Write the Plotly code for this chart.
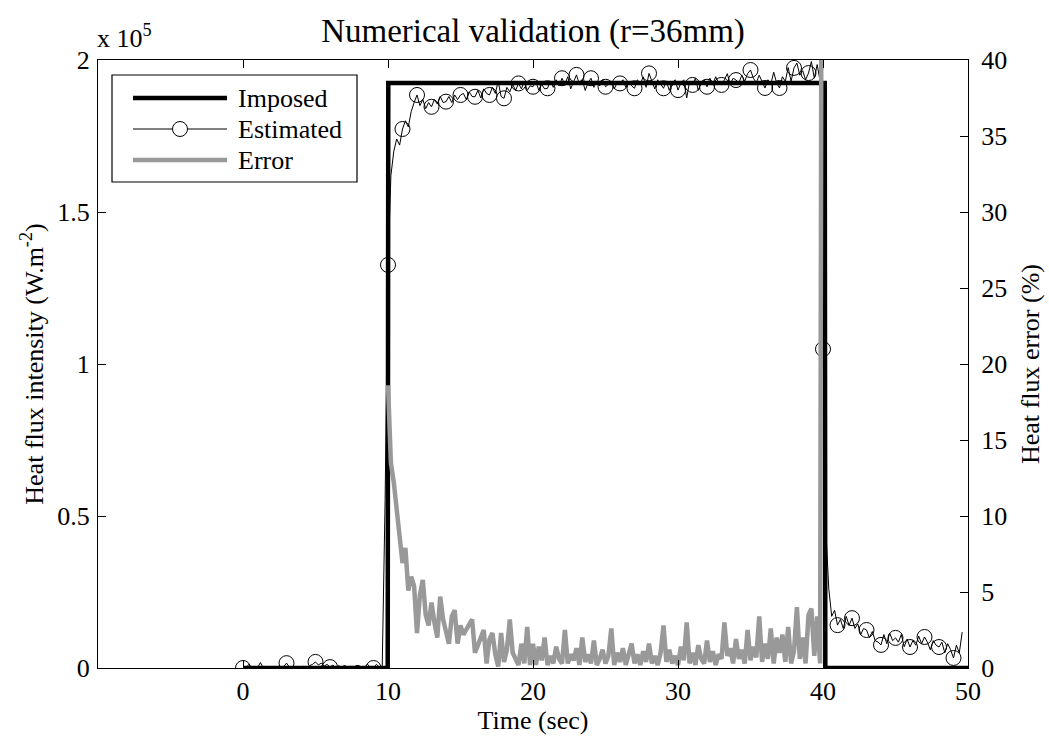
import numpy as np
import plotly.graph_objects as go

# ---------------- data ----------------
# Imposed heat flux (units of 1e5 W.m^-2)
imp_t = [0.0, 9.98, 10.02, 40.12, 40.16, 50.0]
imp_v = [0.0, 0.0, 1.924, 1.924, 0.0, 0.0]

# Estimated heat flux, sampled every 0.2 s from 0 to 49.6 s (units of 1e5 W.m^-2)
est_v = [
    # 0.0 - 9.6
    0.0, 0.0, 0.012, 0.0, 0.004, 0.0, 0.018, 0.0, 0.0, 0.0,
    0.0, 0.0, 0.0, 0.0, 0.004, 0.016, 0.003, 0.0, 0.0, 0.0,
    0.0, 0.006, 0.0, 0.008, 0.012, 0.02, 0.01, 0.016, 0.006, 0.012,
    0.003, 0.01, 0.0, 0.008, 0.0, 0.01, 0.0, 0.006, 0.0, 0.008,
    0.008, 0.0, 0.004, 0.012, 0.0, 0.0, 0.012, 0.003, 0.0,
    # 9.8
    0.55,
    # 10.0 - 39.8
    1.326, 1.62, 1.70, 1.74, 1.72, 1.773, 1.80, 1.78, 1.83, 1.86,
    1.885, 1.85, 1.87, 1.84, 1.86, 1.846, 1.87, 1.855, 1.88, 1.86,
    1.863, 1.88, 1.86, 1.885, 1.87, 1.885, 1.89, 1.87, 1.895, 1.88,
    1.879, 1.90, 1.875, 1.905, 1.89, 1.885, 1.91, 1.89, 1.93, 1.88,
    1.874, 1.91, 1.895, 1.92, 1.90, 1.923, 1.905, 1.93, 1.90, 1.915,
    1.912, 1.93, 1.90, 1.92, 1.905, 1.907, 1.93, 1.91, 1.935, 1.915,
    1.940, 1.92, 1.945, 1.905, 1.93, 1.951, 1.92, 1.935, 1.90, 1.925,
    1.940, 1.91, 1.93, 1.915, 1.935, 1.912, 1.92, 1.93, 1.905, 1.925,
    1.923, 1.935, 1.91, 1.93, 1.915, 1.907, 1.935, 1.92, 1.945, 1.91,
    1.956, 1.93, 1.905, 1.935, 1.92, 1.907, 1.93, 1.90, 1.925, 1.935,
    1.901, 1.925, 1.935, 1.875, 1.93, 1.918, 1.94, 1.90, 1.925, 1.935,
    1.912, 1.94, 1.92, 1.945, 1.925, 1.918, 1.935, 1.955, 1.92, 1.94,
    1.934, 1.925, 1.95, 1.93, 1.955, 1.967, 1.94, 1.925, 1.95, 1.93,
    1.908, 1.935, 1.92, 1.96, 1.925, 1.908, 1.945, 1.93, 1.975, 1.93,
    1.974, 1.99, 1.95, 1.965, 1.935, 1.957, 1.995, 1.94, 1.985, 1.93,
    # 40.0 - 49.6
    1.049, 0.45, 0.26, 0.17, 0.19, 0.141, 0.16, 0.13, 0.17, 0.14,
    0.164, 0.13, 0.145, 0.11, 0.13, 0.125, 0.10, 0.12, 0.09, 0.085,
    0.076, 0.11, 0.08, 0.115, 0.09, 0.099, 0.085, 0.11, 0.07, 0.095,
    0.069, 0.09, 0.075, 0.105, 0.08, 0.102, 0.085, 0.06, 0.09, 0.075,
    0.069, 0.085, 0.05, 0.08, 0.06, 0.033, 0.075, 0.05, 0.118,
]
est_t = np.round(np.arange(len(est_v)) * 0.2, 1)

# Times at which the circle markers are shown
marker_times = [0, 3, 5, 6, 9] + list(range(10, 50))

# Heat flux error (%), sampled every 0.2 s from 10.0 to 40.0 s
err_v = [
    18.6, 13.5, 12.2, 10.6, 8.5, 6.9, 7.9, 5.1, 6.0, 5.4,
    2.3, 4.8, 5.8, 3.5, 2.8, 4.3, 3.0, 2.0, 4.7, 3.2,
    2.4, 1.6, 3.4, 3.8, 1.6, 2.8, 2.2, 2.5, 2.9, 3.2,
    1.0, 1.6, 2.0, 2.5, 0.3, 1.9, 2.3, 0.9, 0.1, 2.3,
    0.4, 1.2, 3.2, 1.0, 0.6, 0.2, 1.6, 0.3, 2.7, 0.2,
    1.6, 0.2, 1.4, 0.5, 2.0, 0.2, 0.8, 0.3, 1.4, 0.6,
    0.3, 2.5, 0.3, 0.9, 0.5, 1.3, 0.2, 2.0, 0.4, 0.9,
    0.3, 1.8, 0.2, 0.6, 1.2, 0.3, 0.8, 2.6, 0.2, 1.0,
    0.4, 1.3, 0.2, 0.8, 1.6, 0.3, 0.9, 0.2, 1.1, 0.4,
    1.6, 0.3, 0.8, 0.2, 1.0, 2.8, 0.4, 1.2, 0.3, 0.8,
    0.2, 1.4, 0.5, 3.0, 0.3, 1.0, 0.2, 1.5, 0.6, 0.3,
    1.8, 0.4, 1.1, 0.2, 0.9, 0.6, 3.0, 0.8, 1.3, 0.3,
    1.9, 0.6, 1.2, 0.3, 2.5, 0.5, 1.4, 0.7, 3.4, 0.4,
    1.6, 0.6, 2.6, 0.3, 2.0, 1.0, 2.2, 0.4, 2.7, 0.3,
    1.1, 4.0, 0.6, 2.0, 0.3, 3.5, 3.9, 0.8, 3.4, 0.3,
    100.0,
]
err_t = np.round(10 + np.arange(len(err_v)) * 0.2, 1)

x_ticks = [0, 10, 20, 30, 40, 50]
y_ticks = [0, 0.5, 1, 1.5, 2]
y_ticklabels = ["0", "0.5", "1", "1.5", "2"]
y2_ticks = [0, 5, 10, 15, 20, 25, 30, 35, 40]
legend_names = ["Imposed", "Estimated", "Error"]

# ---------------- styling ----------------
FONT = "Liberation Serif"
FS = 26
W, H = 1049, 745
ML, MR, MT, MB = 98, 81, 60, 77
PW, PH = W - ML - MR, H - MT - MB
GRAY = "#999999"


def px(x):  # pixel x -> paper x
    return (x - ML) / PW


def py(y):  # pixel y -> paper y
    return (H - MB - y) / PH


mt = set(float(m) for m in marker_times)
mcolors = ["black" if float(t) in mt else "rgba(0,0,0,0)" for t in est_t]

fig = go.Figure()
fig.add_trace(go.Scatter(
    x=imp_t, y=imp_v, mode="lines", name=legend_names[0], showlegend=False,
    line=dict(color="black", width=4.5), yaxis="y"))
fig.add_trace(go.Scatter(
    x=est_t, y=est_v, mode="lines+markers", name=legend_names[1], showlegend=False,
    line=dict(color="black", width=1),
    marker=dict(symbol="circle-open", size=15, color=mcolors, line=dict(width=1)),
    yaxis="y"))
fig.add_trace(go.Scatter(
    x=err_t, y=err_v, mode="lines", name=legend_names[2], showlegend=False,
    line=dict(color=GRAY, width=4.5), yaxis="y2"))

axis_common = dict(
    showline=True, linecolor="black", linewidth=1.2,
    ticks="inside", ticklen=8, tickcolor="black", tickwidth=1,
    showgrid=False, zeroline=False,
    tickfont=dict(family=FONT, size=FS, color="black"),
)

# ----- legend drawn as shapes + text (MATLAB style box) -----
shapes = [dict(type="rect", xref="paper", yref="paper",
               x0=px(112), x1=px(357), y0=py(182), y1=py(75),
               line=dict(color="black", width=1.2), fillcolor="white", layer="above")]
rows_y = [98, 129, 160]
styles = [("black", 4.5), ("black", 1), (GRAY, 4.5)]
annotations = []
for name, ry, (col, lw) in zip(legend_names, rows_y, styles):
    shapes.append(dict(type="line", xref="paper", yref="paper",
                       x0=px(133), x1=px(227), y0=py(ry), y1=py(ry),
                       line=dict(color=col, width=lw), layer="above"))
    annotations.append(dict(text=name, xref="paper", yref="paper",
                            x=px(236), y=py(ry), xanchor="left", yanchor="middle",
                            showarrow=False,
                            font=dict(family=FONT, size=FS, color="black")))
shapes.append(dict(type="circle", xref="paper", yref="paper",
                   x0=px(180 - 7.5), x1=px(180 + 7.5),
                   y0=py(129 + 7.5), y1=py(129 - 7.5),
                   line=dict(color="black", width=1), fillcolor="white", layer="above"))

annotations.append(dict(text="x 10<sup>5</sup>", xref="paper", yref="paper",
                        x=0, y=1, xanchor="left", yanchor="bottom", yshift=5, xshift=-3,
                        showarrow=False,
                        font=dict(family=FONT, size=FS, color="black")))

fig.update_layout(
    width=W, height=H,
    margin=dict(l=ML, r=MR, t=MT, b=MB, autoexpand=False),
    paper_bgcolor="white", plot_bgcolor="white",
    font=dict(family=FONT, size=FS, color="black"),
    showlegend=False,
    title=dict(text="Numerical validation (r=36mm)", x=0.5, xref="paper",
               y=1 - 30 / H, yref="container", yanchor="middle",
               font=dict(family=FONT, size=33, color="black")),
    xaxis=dict(range=[-10, 50], tickvals=x_ticks, mirror="ticks",
               title=dict(text="Time (sec)", standoff=4,
                          font=dict(family=FONT, size=FS)),
               **axis_common),
    yaxis=dict(range=[0, 2], tickvals=y_ticks, ticktext=y_ticklabels,
               mirror="ticks", ticklabelstandoff=2,
               title=dict(text="Heat flux intensity (W.m<sup>-2</sup>)", standoff=6,
                          font=dict(family=FONT, size=FS)),
               **axis_common),
    yaxis2=dict(range=[0, 40], tickvals=y2_ticks, overlaying="y", side="right",
                ticklabelstandoff=7,
                title=dict(text="Heat flux error (%)", standoff=14,
                           font=dict(family=FONT, size=FS)),
                **axis_common),
    shapes=shapes,
    annotations=annotations,
)

fig.write_html("out.html", config={"displayModeBar": False},
               post_script="document.body.style.margin='0px';")
